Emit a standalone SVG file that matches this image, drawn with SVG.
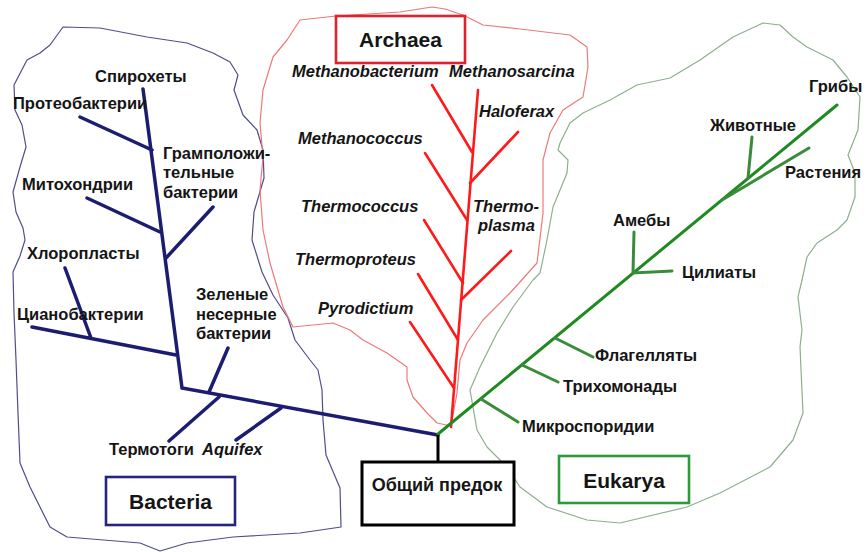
<svg xmlns="http://www.w3.org/2000/svg" width="866" height="552" viewBox="0 0 866 552">
<style>
.lbl{font-family:"Liberation Sans",Arial,sans-serif;font-weight:bold;font-size:16.5px;fill:#151515}
.it{font-style:italic}
.box{font-family:"Liberation Sans",Arial,sans-serif;font-weight:bold;font-size:21px;fill:#151515;text-anchor:middle}
.outline{fill:none;stroke-width:1.2;stroke-linejoin:round}
.bl{stroke:#1c1c70;stroke-width:3.5;stroke-linecap:round;fill:none}
.rd{stroke:#ff1a1a;stroke-width:2.6;stroke-linecap:round;fill:none}
.gr{stroke:#1f8a1f;stroke-width:3;stroke-linecap:round;fill:none}
.grb{stroke:#3a8c3a;stroke-width:3;stroke-linecap:round;fill:none}
</style>
<rect width="866" height="552" fill="#ffffff"/>
<g id="outlines">
<path class="outline" stroke="#4e4e8c" d="M63,27 L100,28 L147,37 L187,43 L213,53 L230,62 L238,75 L234,90 L243,115 L257,130 L263,150 L264,178 L254,212 L252,240 L262,272 L273,295 L288,318 L295,340 L310,360 L318,370 L322,390 L323,420 L326,455 L340,488 L341,527 L300,533 L233,537 L187,543 L160,551 L140,543 L67,537 L50,527 L30,487 L20,463 L18,413 L16,360 L14,313 L13,272 L20,256 L25,240 L23,228 L16,212 L13,192 L20,167 L26,147 L22,125 L15,110 L14,85 L27,60 L40,53 L50,45 Z"/>
<path class="outline" stroke="#f07878" d="M300,20 L336,16 L400,12 L432,7 L445,9 L463,15 L483,25 L520,29 L570,35 L587,47 L588,67 L583,97 L563,110 L550,133 L543,160 L543,213 L537,263 L510,293 L483,320 L467,343 L460,360 L457,393 L451,426 L437,423 L427,413 L413,397 L407,380 L407,367 L387,353 L363,340 L350,330 L333,323 L293,327 L283,307 L270,263 L263,230 L260,190 L263,157 L260,123 L263,90 L273,57 L287,40 Z"/>
<path class="outline" stroke="#8fae8f" d="M560,143 L570,123 L583,113 L610,100 L637,85 L670,78 L700,60 L733,37 L763,23 L780,25 L793,37 L807,47 L833,60 L847,77 L860,97 L858,130 L848,155 L855,173 L855,197 L847,220 L837,230 L817,243 L807,257 L802,280 L798,297 L802,330 L800,347 L803,413 L793,440 L770,467 L720,493 L687,507 L620,523 L587,520 L547,507 L520,487 L507,467 L487,447 L477,430 L473,407 L470,390 L480,367 L497,333 L513,307 L533,280 L540,273 L547,240 L553,207 L567,173 L568,160 L558,150 Z"/>
</g>
<g id="connectors">
<path class="bl" d="M143,89 L182,388 L438,435"/>
<path class="bl" d="M80,117 L152,150 M87,198 L160,232 M213,207 L166,258 M65,268 L91,338 M32,327 L176,355 M228,348 L209,392 M169,441 L219,397 M236,440 L281,408"/>
<path class="rd" d="M478,90 L451,427"/>
<path class="rd" d="M432,85 L472,152 M518,132 L470,183 M425,153 L467,220 M424,220 L463,283 M511,251 L461,300 M418,274 L458,340 M410,322 L454,388"/>
<path class="gr" d="M438,434 L837,105"/>
<path class="grb" d="M752,137 L748,178 M809,148 L722,200 M634,232 L633,273 L672,271 M555,338 L593,357 M522,365 L558,382 M481,399 L518,422"/>
<path d="M438,435 L438,462" stroke="#000" stroke-width="3" fill="none"/>
</g>
<g id="archaea">
<rect x="336" y="16" width="129" height="47" fill="#fff" stroke="#e0202a" stroke-width="2.6"/>
<text class="box" x="400.5" y="47">Archaea</text>
</g>
<g id="bacteria">
<rect x="106" y="477" width="129" height="48" fill="#fff" stroke="#26267e" stroke-width="2.6"/>
<text class="box" x="170.5" y="509">Bacteria</text>
</g>
<g id="eukarya">
<rect x="559" y="456" width="130" height="47" fill="#fff" stroke="#2a9a3a" stroke-width="2.6"/>
<text class="box" x="624" y="488">Eukarya</text>
</g>
<g id="root">
<rect x="362" y="462" width="152" height="63" fill="#fff" stroke="#000" stroke-width="3"/>
<text class="box" x="437" y="491" style="font-size:18px">Общий предок</text>
</g>
<g id="bacteria-taxa">
<text class="lbl" x="95" y="82">Спирохеты</text>
<text class="lbl" x="13" y="109">Протеобактерии</text>
<text class="lbl" x="163" y="158.5">Грамположи-<tspan x="163" y="178">тельные</tspan><tspan x="163" y="197.5">бактерии</tspan></text>
<text class="lbl" x="22" y="190">Митохондрии</text>
<text class="lbl" x="27" y="259">Хлоропласты</text>
<text class="lbl" x="17" y="320">Цианобактерии</text>
<text class="lbl" x="196" y="300">Зеленые<tspan x="196" y="319.5">несерные</tspan><tspan x="196" y="339">бактерии</tspan></text>
<text class="lbl" x="109" y="455">Термотоги</text>
<text class="lbl it" x="202" y="455">Aquifex</text>
</g>
<g id="archaea-taxa">
<text class="lbl it" x="292" y="77">Methanobacterium</text>
<text class="lbl it" x="449" y="77">Methanosarcina</text>
<text class="lbl it" x="479" y="117">Haloferax</text>
<text class="lbl it" x="298" y="143.5">Methanococcus</text>
<text class="lbl it" x="301" y="212">Thermococcus</text>
<text class="lbl it" x="473" y="212">Thermo-<tspan x="478" y="231">plasma</tspan></text>
<text class="lbl it" x="295" y="265">Thermoproteus</text>
<text class="lbl it" x="318" y="314">Pyrodictium</text>
</g>
<g id="eukarya-taxa">
<text class="lbl" x="809" y="92">Грибы</text>
<text class="lbl" x="710" y="131">Животные</text>
<text class="lbl" x="785" y="178">Растения</text>
<text class="lbl" x="613" y="226">Амебы</text>
<text class="lbl" x="682" y="278">Цилиаты</text>
<text class="lbl" x="595" y="361">Флагелляты</text>
<text class="lbl" x="563" y="392">Трихомонады</text>
<text class="lbl" x="522" y="432">Микроспоридии</text>
</g>
</svg>
